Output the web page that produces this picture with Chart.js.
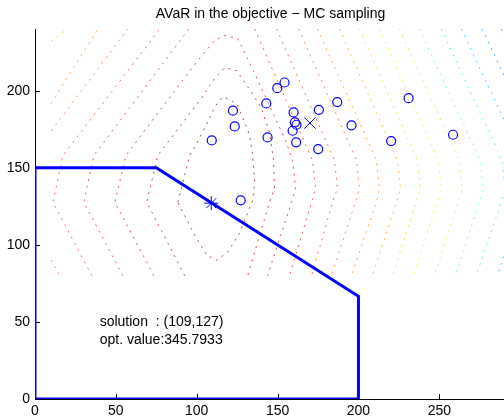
<!DOCTYPE html>
<html>
<head>
<meta charset="utf-8">
<title>AVaR in the objective - MC sampling</title>
<script src="https://cdn.jsdelivr.net/npm/chart.js@4.4.1/dist/chart.umd.min.js"></script>
<style>
    html, body { margin: 0; padding: 0; background: #fff; }
    #chart { display: block; }
</style>
</head>
<body>
<canvas id="chart" width="504" height="418"></canvas>
<script>
(function() {
    'use strict';

    var titleText = 'AVaR in the objective \u2212 MC sampling';
    var xTicks = [0, 50, 100, 150, 200, 250];
    var yTicks = [0, 50, 100, 150, 200];

    // feasible region (2x + 3y <= 600, x <= 200, y <= 150)
    var regionX = [0, 0, 75, 200, 200, 0];
    var regionY = [0, 150, 150, 66.67, 0, 0];

    // MC samples
    var sampleX = [109.3, 127.2, 149.8, 154.3, 143.0, 122.4, 123.5, 143.8, 159.9, 175.5,
                   186.9, 160.7, 161.7, 159.3, 161.5, 175.1, 195.7, 231.0, 220.2, 258.5];
    var sampleY = [167.7, 128.9, 201.6, 205.3, 191.7, 187.0, 176.8, 169.7, 185.9, 187.6,
                   192.6, 179.4, 177.9, 174.0, 166.5, 162.1, 177.5, 195.1, 167.3, 171.4];

    var solution = [109, 127];
    var sampleMean = [170, 179];

    var notes = ['solution  : (109,127)', 'opt. value:345.7933'];
    var notePos = [[40, 50], [40, 38]];

    // contour lines, inner level first; each level is a list of polylines [x, y]
    var level1 = [[[88.3, 127.6], [95.7, 158], [100, 165.8], [106, 178], [111.5, 190], [116, 196], [121, 194],
                   [125.3, 190.4], [129.6, 179.4], [132.7, 171], [134.6, 158], [135.8, 140.5], [134.6, 128.9],
                   [126.5, 107.5], [119.1, 95.2], [112.3, 90], [106.2, 93.3], [98.8, 106.2], [88.3, 127.6]]];
    var level2 = [[[92.6, 80], [69.1, 127.6], [75.9, 158], [101.9, 193.7], [111.1, 207.9], [117.3, 215],
                   [124.7, 213], [134, 198.8], [140.1, 188.5], [145, 172.9], [147.5, 154.8], [148.1, 136.7],
                   [145, 127.6], [131.5, 80]]];
    var level3 = [[[73.5, 80], [49.4, 127.6], [56.2, 158], [100.6, 219.6], [111.1, 232.5], [117.3, 235.8],
                   [125.3, 233.8], [135, 213], [146.3, 187.3], [155, 167.7], [159.3, 154.8], [161.1, 136.7],
                   [158.6, 127.6], [143.8, 80]]];
    var level4 = [[[54.3, 80], [30.2, 127.6], [36.4, 158], [95.1, 240]],
                  [[135.8, 240], [171.6, 154.8], [173.5, 136.7], [171, 127.6], [157.4, 80]]];
    var level5 = [[[35.2, 80], [11.1, 127.6], [17.3, 158], [77.2, 240]],
                  [[149.4, 240], [185.2, 154.8], [187, 136.7], [184, 127.6], [171, 80]]];
    var level6 = [[[10, 90], [15.4, 80]], [[10, 174], [57.4, 240]],
                  [[163, 240], [198.8, 154.8], [200.6, 136.7], [198.1, 127.6], [183.3, 80]]];
    var level7 = [[[10, 191.7], [38.9, 240]],
                  [[174.7, 240], [211.1, 154.8], [213, 136.7], [211.1, 127.6], [195.7, 80]]];
    var level8 = [[[10, 232], [19.8, 240]],
                  [[188.3, 240], [224, 154.8], [226, 136.7], [223.5, 127.6], [208.6, 80]]];
    var level9 = [[[200.6, 240], [236.4, 154.8], [238.3, 136.7], [235.8, 127.6], [221, 80]]];
    var level10 = [[[213, 240], [249.4, 154.8], [251.2, 136.7], [248.8, 127.6], [234, 80]]];
    var level11 = [[[225.3, 240], [262.3, 154.8], [264.2, 136.7], [261.7, 127.6], [247, 80]]];
    var level12 = [[[237.7, 240], [275.3, 154.8], [277.2, 136.7], [274.7, 127.6], [259.9, 80]]];
    var level13 = [[[251.2, 240], [288.9, 154.8], [290.7, 136.7], [288.3, 127.6], [272.8, 80]]];
    var level14 = [[[263.6, 240], [301.9, 154.8], [303.7, 136.7], [301.2, 127.6], [285.8, 80]]];
    var level15 = [[[276.5, 240], [314.8, 154.8]]];
    var level16 = [[[288.3, 240], [328, 154.8]]];

    var levels = [level1, level2, level3, level4, level5, level6, level7, level8,
                  level9, level10, level11, level12, level13, level14, level15, level16];

    var levelColors = ['128,0,0', '176,0,0', '210,10,10', '232,32,26', '240,64,32', '248,96,32',
                       '255,128,0', '255,160,0', '255,200,0', '236,236,0', '170,250,60', '96,250,140',
                       '30,235,220', '0,190,255', '0,140,255', '0,96,255'];

    var fontFamily = '"Liberation Sans", Arial, Helvetica, sans-serif';
    var blue = '#0000ff';

    function toPoints(xs, ys) {
        return xs.map(function(x, i) { return {x: x, y: ys[i]}; });
    }

    function contourDatasets() {
        var sets = [];
        levels.forEach(function(level, i) {
            level.forEach(function(line) {
                sets.push({
                    data: line.map(function(p) { return {x: p[0], y: p[1]}; }),
                    showLine: true,
                    borderColor: 'rgba(' + levelColors[i] + ',0.7)',
                    borderWidth: 1,
                    borderDash: [2, 5],
                    pointRadius: 0,
                    tension: 0
                });
            });
        });
        return sets;
    }

    // tick marks point inward, drawn under the data
    var innerTicks = {
        id: 'innerTicks',
        beforeDatasetsDraw: function(chart) {
            var ctx = chart.ctx, area = chart.chartArea;
            var xs = chart.scales.x, ys = chart.scales.y;
            ctx.save();
            ctx.strokeStyle = '#000';
            ctx.lineWidth = 1;
            ctx.beginPath();
            xTicks.forEach(function(v) {
                var px = Math.round(xs.getPixelForValue(v)) + 0.5;
                ctx.moveTo(px, area.bottom);
                ctx.lineTo(px, area.bottom - 5);
            });
            yTicks.forEach(function(v) {
                var py = Math.round(ys.getPixelForValue(v)) + 0.5;
                ctx.moveTo(area.left, py);
                ctx.lineTo(area.left + 5, py);
            });
            ctx.stroke();
            ctx.restore();
        }
    };

    var texts = {
        id: 'texts',
        afterDraw: function(chart) {
            var ctx = chart.ctx, area = chart.chartArea;
            var xs = chart.scales.x, ys = chart.scales.y;
            ctx.save();
            ctx.fillStyle = '#000';
            ctx.font = '14px ' + fontFamily;
            ctx.textAlign = 'center';
            ctx.textBaseline = 'alphabetic';
            ctx.fillText(titleText, (area.left + area.right) / 2 + 1, 18);
            ctx.textAlign = 'left';
            ctx.textBaseline = 'middle';
            notes.forEach(function(t, i) {
                ctx.fillText(t, xs.getPixelForValue(notePos[i][0]), ys.getPixelForValue(notePos[i][1]));
            });
            ctx.restore();
        }
    };

    var datasets = [
        {
            data: [{x: solution[0], y: solution[1]}],
            pointStyle: 'star', pointRadius: 7, borderColor: blue, borderWidth: 1
        },
        {
            data: [{x: sampleMean[0], y: sampleMean[1]}],
            pointStyle: 'crossRot', pointRadius: 8, borderColor: blue, borderWidth: 1
        },
        {
            data: toPoints(sampleX, sampleY),
            pointStyle: 'circle', pointRadius: 4.5, borderColor: blue, borderWidth: 1.2,
            backgroundColor: 'rgba(0,0,0,0)'
        },
        {
            data: toPoints(regionX, regionY),
            showLine: true, borderColor: blue, borderWidth: 3, pointRadius: 0, tension: 0
        }
    ].concat(contourDatasets());

    function axisOptions(min, max, ticks, fit) {
        return {
            type: 'linear',
            bounds: 'data',
            min: min,
            max: max,
            grid: {display: false, drawTicks: false},
            border: {display: true, color: '#000', width: 1},
            ticks: {
                color: '#000',
                autoSkip: false,
                maxRotation: 0,
                font: {family: fontFamily, size: 14},
                padding: 4
            },
            afterBuildTicks: function(scale) {
                scale.ticks = ticks.map(function(v) { return {value: v}; });
            },
            afterFit: function(scale) {
                fit(scale);
                scale.paddingLeft = 0;
                scale.paddingRight = 0;
                scale.paddingTop = 0;
                scale.paddingBottom = 0;
            }
        };
    }

    var xAxis = axisOptions(0, 290, xTicks, function(scale) { scale.height = 19; });
    var yAxis = axisOptions(0, 240, yTicks, function(scale) { scale.width = 35; });
    yAxis.ticks.padding = 5;

    new Chart(document.getElementById('chart'), {
        type: 'scatter',
        data: {datasets: datasets},
        options: {
            responsive: false,
            animation: false,
            devicePixelRatio: 1,
            layout: {
                // the plot runs to the right edge of the canvas, no room for marker overflow
                autoPadding: false,
                padding: {top: 29, left: 0, right: 0, bottom: 0}
            },
            plugins: {
                legend: {display: false},
                tooltip: {enabled: false}
            },
            scales: {x: xAxis, y: yAxis}
        },
        plugins: [innerTicks, texts]
    });
})();
</script>
</body>
</html>
